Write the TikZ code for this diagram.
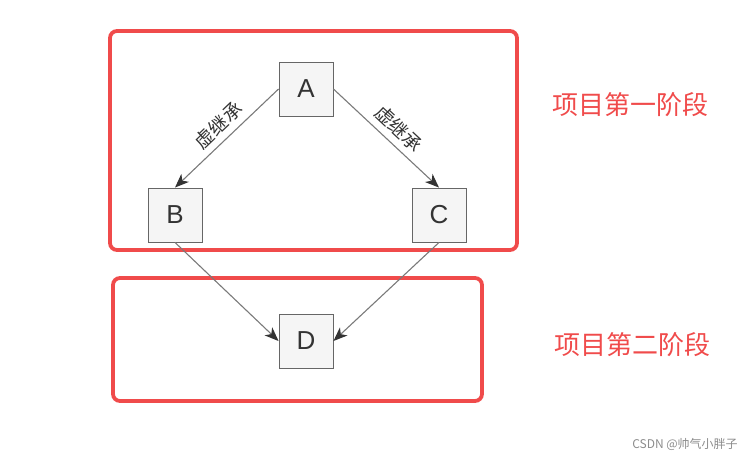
\documentclass[tikz,border=0pt]{standalone}
\usepackage{fontspec}
\setmainfont{Liberation Sans}
\newfontfamily\cjk{Noto Sans CJK SC}
\usepackage{xcolor}
\usetikzlibrary{arrows.meta}

\definecolor{stagered}{HTML}{F04B4B}
\definecolor{boxfill}{HTML}{F5F5F5}
\definecolor{boxline}{HTML}{666666}
\definecolor{linkgray}{HTML}{7A7A7A}
\definecolor{tipgray}{HTML}{333333}

\tikzset{
  cls/.style={draw=boxline, fill=boxfill, line width=0.9pt, minimum size=54pt,
    inner sep=0pt, text=tipgray, font=\fontsize{26}{26}\selectfont},
  link/.style={draw=linkgray, line width=1.1pt,
    -{Stealth[length=14pt,width=11pt,inset=4pt,fill=tipgray,color=tipgray]}},
  lbl/.style={font=\cjk\fontsize{19}{19}\selectfont, text=tipgray, inner sep=6pt},
  stage/.style={draw=stagered, line width=3.8pt, rounded corners=7pt},
  stagelabel/.style={font=\cjk\fontsize{26}{26}\selectfont, text=stagered}
}

\begin{document}
\begin{tikzpicture}[x=1pt, y=-1pt]
\useasboundingbox (0,0) rectangle (749,458);

% stages
\draw[stage] (110,31) rectangle (517,250);
\draw[stage] (113,278) rectangle (482,401);
\node[stagelabel] (s1) at (630,105) {项目第一阶段};
\node[stagelabel] (s2) at (632,345) {项目第二阶段};

% classes
\node[cls] (A) at (306,89) {A};
\node[cls] (B) at (175,215) {B};
\node[cls] (C) at (439,215) {C};
\node[cls] (D) at (306,341) {D};

% inheritance
\draw[link] (A.west) -- node[lbl, sloped, above, pos=0.48] {虚继承} (B.north);
\draw[link] (A.east) -- node[lbl, sloped, above, pos=0.52] {虚继承} (C.north);
\draw[link] (B.south) -- (D.west);
\draw[link] (C.south) -- (D.east);

\node[font=\cjk\fontsize{12}{12}\selectfont, text=black!45] (wm) at (685,444) {CSDN @帅气小胖子};
\end{tikzpicture}
\end{document}
